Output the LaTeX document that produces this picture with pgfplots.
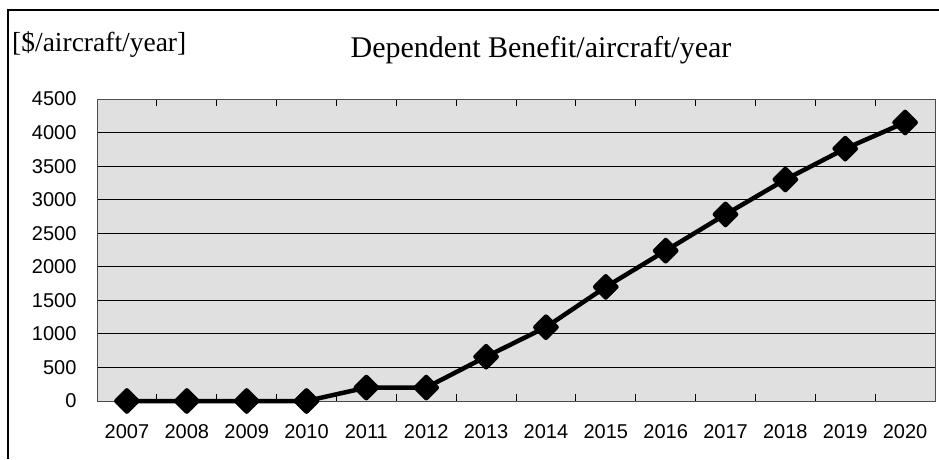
\documentclass[border=0pt]{standalone}
\usepackage{fontspec}
\setmainfont{Liberation Serif}
\setsansfont{Liberation Sans}
\usepackage{pgfplots}
\pgfplotsset{compat=1.18}

\pgfplotsset{
  /pgf/number format/assume math mode=true,
  /pgf/number format/1000 sep={},
}

\begin{document}
\begin{tikzpicture}
\useasboundingbox (0,0) rectangle (939pt,459pt);
% outer frame (only top and left edges visible)
\draw[line width=1.5pt] (8pt,0) -- (8pt,449pt) -- (939pt,449pt);

\node[anchor=base west, inner sep=0pt, font=\fontsize{27.5}{30}\selectfont] at (12pt,407pt) {[\$/aircraft/year]};
\node[anchor=base, inner sep=0pt, font=\fontsize{30}{32}\selectfont] at (541pt,402pt) {Dependent Benefit/aircraft/year};

\begin{axis}[
  at={(97pt,58pt)}, anchor=south west,
  scale only axis, width=838pt, height=302pt,
  xmin=-0.5, xmax=13.5, ymin=0, ymax=4500,
  xtick={0,...,13},
  xticklabels={2007,2008,2009,2010,2011,2012,2013,2014,2015,2016,2017,2018,2019,2020},
  minor xtick={0.5,1.5,...,12.5},
  ytick={500,1000,...,4000},
  extra y ticks={0,4500},
  extra y tick style={grid=none},
  ymajorgrids,
  grid style={black, line width=1.1pt},
  major tick length=0pt,
  minor tick length=7pt,
  tick align=inside,
  minor tick style={black, line width=0.8pt},
  axis line style={black!70, line width=0.8pt},
  axis background/.style={fill=black!12},
  tick label style={font=\sffamily\fontsize{20}{21}\selectfont},
  yticklabel style={xshift=-17pt},
  xticklabel style={yshift=-20pt},
  clip=false,
]
\addplot[black, line width=4.5pt, line join=round,
  mark=square*, mark size=7.5pt, mark options={rotate=45, solid}]
  coordinates {
  (0,0) (1,0) (2,0) (3,0) (4,200) (5,200) (6,660)
  (7,1100) (8,1700) (9,2240) (10,2780) (11,3300) (12,3760) (13,4150)
  };
\end{axis}
\end{tikzpicture}
\end{document}
